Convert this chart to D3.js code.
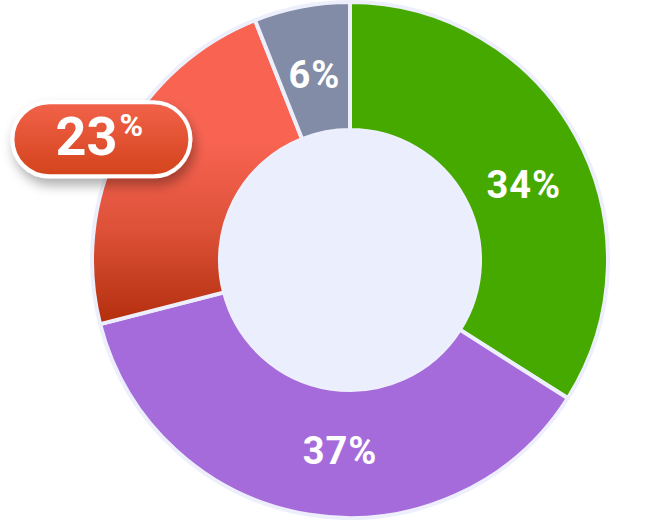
<!DOCTYPE html>
<html lang="en">
<head>
    <meta charset="UTF-8">
    <title>Donut</title>
    <script src="https://d3js.org/d3.v7.min.js"></script>
    <style>
        body { margin: 0; background: #fff; }
        svg { display: block; font-family: Roboto, "Noto Sans", sans-serif; }
    </style>
</head>
<body>
    <div id="chart-div"></div>
    <script type="text/javascript">
        // slice data, clockwise from 12 o'clock
        const categories = ["A", "B", "C", "D"];
        const values = [34, 37, 23, 6];
        const labels = ["34%", "37%", "23", "6%"];
        const colors = ["#46a900", "#a66bdb", "url(#redGrad)", "#838ca6"];
        const highlighted = 2;

        const width = 672, height = 520;
        const cx = 350, cy = 260;
        const outerR = 258, innerR = 130;
        const deg = Math.PI / 180;
        // small angular nudge of the inner labels (style only)
        const labelNudge = [5 * deg, -6 * deg, 0, 0];

        const svg = d3.select("#chart-div").append("svg")
            .attr("width", width)
            .attr("height", height);

        const defs = svg.append("defs");
        const rg = defs.append("linearGradient")
            .attr("id", "redGrad")
            .attr("gradientUnits", "userSpaceOnUse")
            .attr("x1", 0).attr("y1", 140 - cy).attr("x2", 0).attr("y2", 322 - cy);
        rg.append("stop").attr("offset", 0).attr("stop-color", "#f96452");
        rg.append("stop").attr("offset", 0.5).attr("stop-color", "#dc5138");
        rg.append("stop").attr("offset", 1).attr("stop-color", "#b42f0e");

        const bg = defs.append("linearGradient")
            .attr("id", "badgeGrad")
            .attr("x1", 0).attr("y1", 0).attr("x2", 0).attr("y2", 1);
        bg.append("stop").attr("offset", 0).attr("stop-color", "#f2624a");
        bg.append("stop").attr("offset", 1).attr("stop-color", "#d3431c");

        const shadow = defs.append("filter").attr("id", "shadow")
            .attr("x", "-30%").attr("y", "-40%").attr("width", "160%").attr("height", "200%");
        shadow.append("feDropShadow")
            .attr("dx", 3).attr("dy", 7).attr("stdDeviation", 6)
            .attr("flood-color", "#000").attr("flood-opacity", 0.32);

        const pie = d3.pie().sort(null).value(d => d);
        const arcs = pie(values);

        const arc = d3.arc().innerRadius(innerR).outerRadius(outerR);
        const labelArc = d3.arc().innerRadius(190).outerRadius(190);
        const badgeArc = d3.arc().innerRadius(279).outerRadius(279);

        const g = svg.append("g").attr("transform", `translate(${cx},${cy})`);

        // outer rim
        g.append("circle")
            .attr("r", outerR + 1)
            .attr("fill", "#e9ecfb");

        g.selectAll("path.slice")
            .data(arcs)
            .join("path")
            .attr("class", "slice")
            .attr("d", arc)
            .attr("fill", (d, i) => colors[i])
            .attr("stroke", "#edf0fc")
            .attr("stroke-width", 4)
            .attr("stroke-linejoin", "round");

        g.append("circle")
            .attr("r", innerR)
            .attr("fill", "#ebeefc");

        g.selectAll("text.lbl")
            .data(arcs.filter((d, i) => i !== highlighted))
            .join("text")
            .attr("class", "lbl")
            .attr("transform", d => {
                const s = labelNudge[d.index];
                return `translate(${labelArc.centroid({startAngle: d.startAngle + s, endAngle: d.endAngle + s})})`;
            })
            .attr("text-anchor", "middle")
            .attr("dy", "0.38em")
            .attr("fill", "#fff")
            .attr("font-size", 38)
            .attr("letter-spacing", 1)
            .attr("font-weight", "bold")
            .text(d => labels[d.index]);

        // callout badge for the highlighted slice
        const bc = badgeArc.centroid(arcs[highlighted]);
        const badge = g.append("g")
            .attr("transform", `translate(${bc[0]},${bc[1] + 6})`);
        badge.append("rect")
            .attr("x", -89).attr("y", -37)
            .attr("width", 178).attr("height", 74)
            .attr("rx", 37)
            .attr("fill", "url(#badgeGrad)")
            .attr("stroke", "#fff")
            .attr("stroke-width", 4)
            .attr("filter", "url(#shadow)");
        const bt = badge.append("text")
            .attr("text-anchor", "middle")
            .attr("x", -2)
            .attr("y", 16)
            .attr("fill", "#fff")
            .attr("font-weight", "bold");
        bt.append("tspan").attr("font-size", 54).text(labels[highlighted]);
        bt.append("tspan").attr("font-size", 32).attr("dx", 2).attr("dy", -19).text("%");
    </script>
</body>
</html>
